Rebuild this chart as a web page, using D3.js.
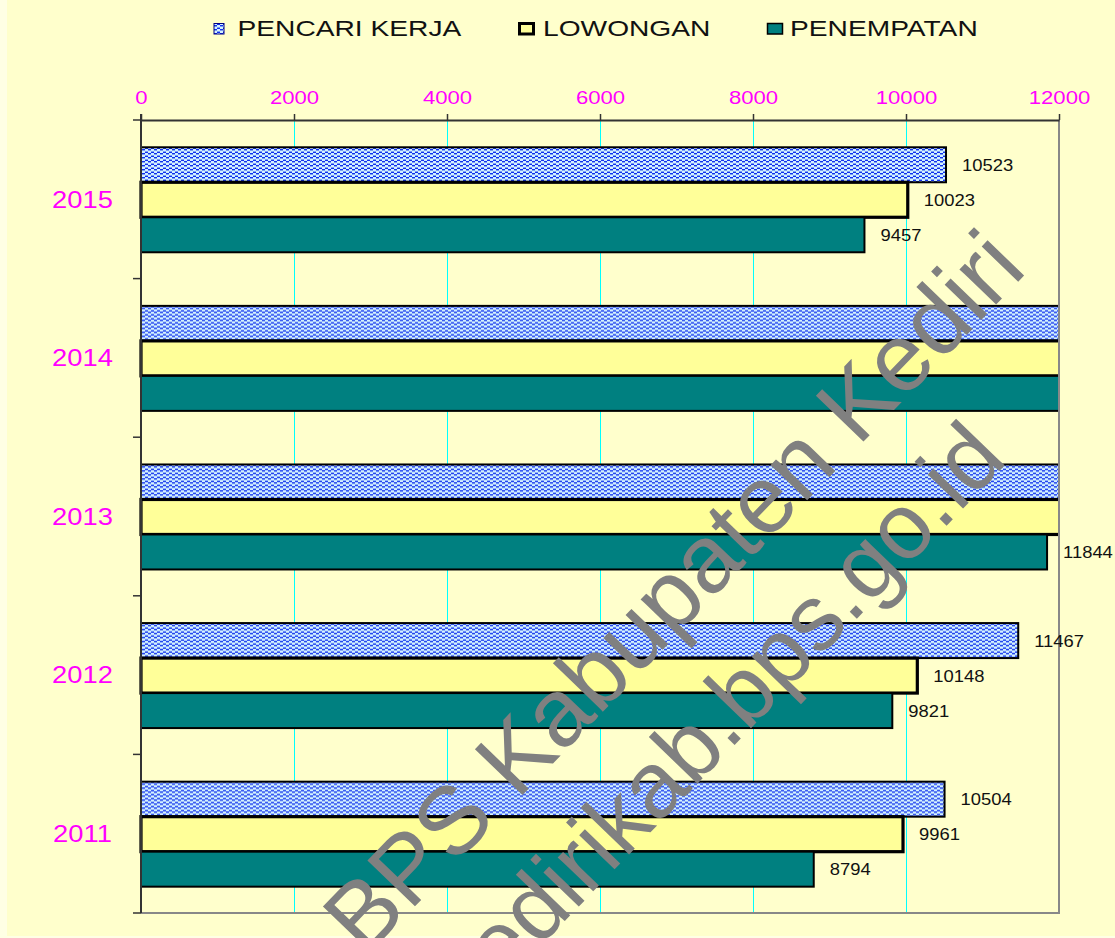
<!DOCTYPE html>
<html><head><meta charset="utf-8">
<script src="https://cdn.jsdelivr.net/npm/d3@7"></script>
<style>
body{margin:0;background:#FFFFE4;}
svg{display:block}
text{font-family:"Liberation Sans",Arial,sans-serif;}
</style>
</head><body>
<svg id="c" width="1115" height="938"></svg>
<script>
// ---- data ----
const years = ["2015","2014","2013","2012","2011"];
const seriesNames = ["PENCARI KERJA","LOWONGAN","PENEMPATAN"];
const pencariKerja = [10523, 15200, 13600, 11467, 10504];
const lowongan     = [10023, 13900, 12700, 10148,  9961];
const penempatan   = [ 9457, 12900, 11844,  9821,  8794];
const xTicks = [0,2000,4000,6000,8000,10000,12000];
const watermarkLines = ["BPS Kabupaten Kediri","kedirikab.bps.go.id"];

const seriesValues = [pencariKerja, lowongan, penempatan];
const rows = years.map((y,i)=>({year:y, vals:seriesNames.map((s,j)=>({series:s, value:seriesValues[j][i]}))}));

const svg = d3.select("#c");
const W = 1115, H = 938;
const L = 141, R = 1059, T = 120, B = 913;

// background
svg.append("rect").attr("x",7).attr("y",0).attr("width",W-7).attr("height",H-2).attr("fill","#FFFFCC");

// pattern for PENCARI KERJA
const defs = svg.append("defs");
const pat = defs.append("pattern").attr("id","wave").attr("patternUnits","userSpaceOnUse")
  .attr("width",6).attr("height",4);
pat.append("rect").attr("width",6).attr("height",4).attr("fill","#D4F2FF");
const dark = [[1,0],[2,0],[3,0],[0,1],[4,1],[5,1]];
const mid  = [[4,2],[5,2],[0,2],[1,3],[2,3],[3,3]];
dark.forEach(([x,y])=>pat.append("rect").attr("x",x).attr("y",y).attr("width",1).attr("height",1).attr("fill","#1030F0"));
mid.forEach(([x,y])=>pat.append("rect").attr("x",x).attr("y",y).attr("width",1).attr("height",1).attr("fill","#7C9CF2"));

defs.append("clipPath").attr("id","plotclip").append("rect")
  .attr("x",L-2).attr("y",T).attr("width",R-L+2).attr("height",B-T);

const fills = {"PENCARI KERJA":"url(#wave)","LOWONGAN":"#FFFF99","PENEMPATAN":"#008080"};
const strokeW = {"PENCARI KERJA":2,"LOWONGAN":3.2,"PENEMPATAN":2};

// scales
const x = d3.scaleLinear().domain([0,12000]).range([L,R]);
const y = d3.scaleBand().domain(years).range([T,B]).padding(0);
const bw = y.bandwidth();
const y1 = d3.scaleBand().domain(seriesNames).range([bw*0.172, bw*0.834]).padding(0);

// gridlines
svg.append("g").selectAll("line").data(xTicks.filter(t=>t>0 && t<12000)).join("line")
  .attr("x1",d=>x(d)).attr("x2",d=>x(d)).attr("y1",T).attr("y2",B)
  .attr("stroke","#00FFFF").attr("stroke-width",1).attr("shape-rendering","crispEdges");

// bars
const gBars = svg.append("g").attr("clip-path","url(#plotclip)");
const groups = gBars.selectAll("g").data(rows).join("g").attr("transform",d=>`translate(0,${y(d.year)})`);
groups.selectAll("rect").data(d=>d.vals).join("rect")
  .attr("x",x(0)).attr("y",d=>y1(d.series))
  .attr("width",d=>x(d.value)-x(0)).attr("height",y1.bandwidth())
  .attr("fill",d=>fills[d.series]).attr("stroke","#000").attr("stroke-width",d=>strokeW[d.series]);

// right & bottom borders
svg.append("line").attr("x1",R).attr("x2",R).attr("y1",T).attr("y2",B+1).attr("stroke","#888").attr("stroke-width",2);
svg.append("line").attr("x1",L).attr("x2",R+1).attr("y1",B).attr("y2",B).attr("stroke","#888").attr("stroke-width",2);

// top axis
const xAxis = svg.append("g").attr("transform",`translate(0,${T})`)
  .call(d3.axisTop(x).tickValues(xTicks).tickSizeInner(6).tickSizeOuter(0).tickPadding(10).tickFormat(d3.format("d")));
xAxis.select(".domain").attr("stroke","#333").attr("stroke-width",2);
xAxis.selectAll(".tick line").attr("stroke","#333").attr("stroke-width",1.5);
xAxis.selectAll(".tick text").attr("fill","#FF00FF").attr("font-size",18)
  .attr("font-family","'Liberation Sans',Arial,sans-serif")
  .attr("y",-16).attr("dy",0).attr("transform","scale(1.23,1)");

// left axis
const yAxis = svg.append("g").attr("transform",`translate(${L},0)`)
  .call(d3.axisLeft(y).tickSize(0).tickSizeOuter(0));
yAxis.select(".domain").attr("stroke","#333").attr("stroke-width",2).attr("d",`M0,${T-6}V${B}`);
yAxis.selectAll(".tick text").attr("fill","#FF00FF").attr("font-size",23)
  .attr("font-family","'Liberation Sans',Arial,sans-serif")
  .attr("x",0).attr("dy","0.36em").attr("text-anchor","middle")
  .attr("transform","translate(-58.5,0) scale(1.19,1)");
// boundary ticks
const bounds = years.map(d=>y(d)).concat([y(years[years.length-1])+bw]);
svg.append("g").selectAll("line").data(bounds).join("line")
  .attr("x1",L-8).attr("x2",L).attr("y1",d=>d).attr("y2",d=>d)
  .attr("stroke","#333").attr("stroke-width",1.5);

// value labels (only those within the axis range)
const labelData = [];
rows.forEach(r=>r.vals.forEach(v=>{ if (v.value<=12000) labelData.push({year:r.year, ...v}); }));
svg.append("g").selectAll("text").data(labelData).join("text")
  .attr("transform",d=>`translate(${x(d.value)+16},${y(d.year)+y1(d.series)+y1.bandwidth()/2+6}) scale(1.15,1)`)
  .attr("font-size",16).attr("fill","#111").text(d=>d.value);

// legend
const legPos = [
  {sx:214,sy:23.5,sw:10,sh:10.5,tx:237.5,sc:"#000080",sk:1},
  {sx:519.5,sy:23.5,sw:14,sh:10.5,tx:543,sc:"#000",sk:3},
  {sx:767.5,sy:23.5,sw:15,sh:10.5,tx:790,sc:"#000",sk:1.5}];
const leg = svg.append("g");
seriesNames.forEach((s,i)=>{
  const p = legPos[i];
  leg.append("rect").attr("x",p.sx).attr("y",p.sy).attr("width",p.sw).attr("height",p.sh)
    .attr("fill",fills[s]).attr("stroke",p.sc).attr("stroke-width",p.sk);
  leg.append("text").attr("transform",`translate(${p.tx},35.8) scale(1.31,1)`)
    .attr("font-size",21.5).attr("fill","#111").text(s);
});

// watermark
const wm = [
  {tx:365, ty:958, fs:96, anchor:"start"},
  {tx:1009, ty:461, fs:93, anchor:"end"}];
svg.append("g").selectAll("text").data(watermarkLines).join("text")
  .attr("transform",(d,i)=>`translate(${wm[i].tx},${wm[i].ty}) rotate(-46)`)
  .attr("text-anchor",(d,i)=>wm[i].anchor)
  .attr("font-size",(d,i)=>wm[i].fs).attr("fill","#808080").text(d=>d);
</script>
</body></html>
